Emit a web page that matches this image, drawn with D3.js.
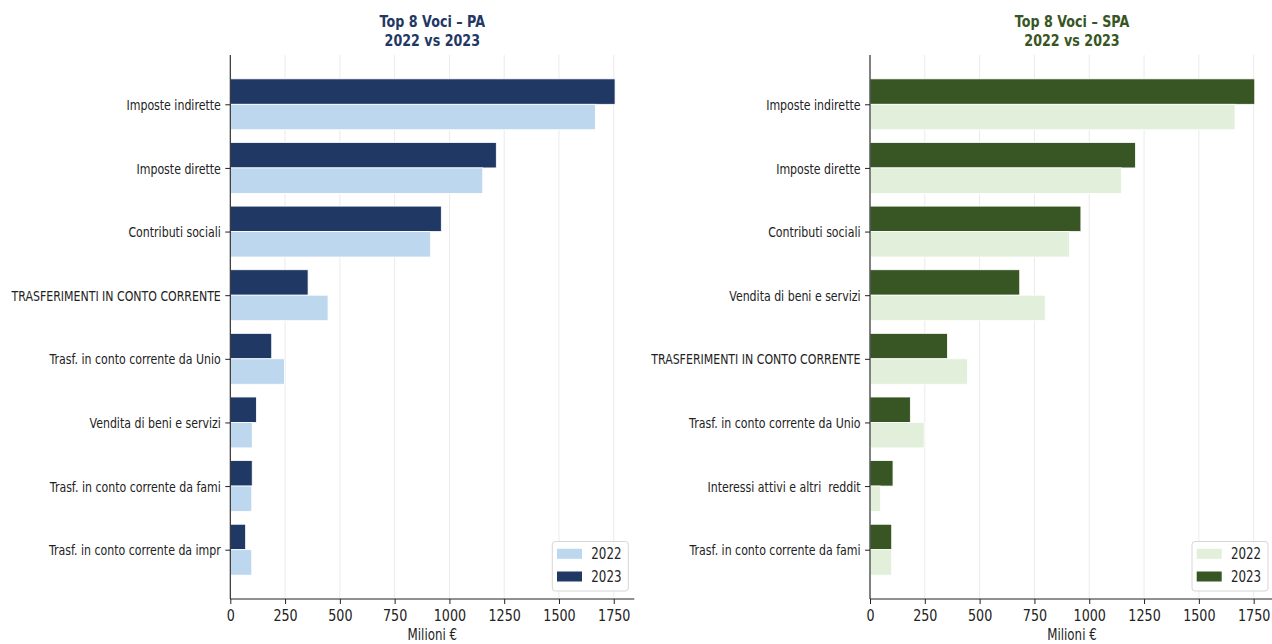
<!DOCTYPE html>
<html>
<head>
<meta charset="utf-8">
<script src="https://cdn.jsdelivr.net/npm/d3@7"></script>
<style>
  html, body { margin: 0; padding: 0; background: #fff; }
  svg { display: block; }
  text { font-family: "DejaVu Sans", sans-serif; white-space: pre; }
</style>
</head>
<body>
<svg id="chart" width="1272" height="644"></svg>
<script>
// ---- data ----
const categoriesPA = [
  "Imposte indirette",
  "Imposte dirette",
  "Contributi sociali",
  "TRASFERIMENTI IN CONTO CORRENTE",
  "Trasf. in conto corrente da Unio",
  "Vendita di beni e servizi",
  "Trasf. in conto corrente da fami",
  "Trasf. in conto corrente da impr"
];
const pa2022 = [1666, 1152, 914, 446, 247, 100, 98, 98];
const pa2023 = [1756, 1214, 963, 355, 189, 119, 100, 70];

const categoriesSPA = [
  "Imposte indirette",
  "Imposte dirette",
  "Contributi sociali",
  "Vendita di beni e servizi",
  "TRASFERIMENTI IN CONTO CORRENTE",
  "Trasf. in conto corrente da Unio",
  "Interessi attivi e altri  reddit",
  "Trasf. in conto corrente da fami"
];
const spa2022 = [1665, 1147, 910, 799, 444, 247, 47, 99];
const spa2023 = [1755, 1211, 962, 683, 353, 184, 105, 99];

const xTicks = [0, 250, 500, 750, 1000, 1250, 1500, 1750];
const seriesNames = ["2022", "2023"];
const titlesPA = ["Top 8 Voci \u2013 PA", "2022 vs 2023"];
const titlesSPA = ["Top 8 Voci \u2013 SPA", "2022 vs 2023"];
const xLabel = "Milioni \u20ac";

// ---- layout / style ----
const K = 0.78; // horizontal squeeze of text
const svg = d3.select("#chart");
const plotTop = 55, plotBottom = 599, plotW = 404;

function sq(sel, x, y) {
  return sel.attr("transform", `translate(${x},${y}) scale(${K},1)`);
}

function panel(cfg) {
  const g = svg.append("g");
  const x0 = cfg.left;
  const maxV = d3.max(cfg.s2022.concat(cfg.s2023));
  const x = d3.scaleLinear().domain([0, maxV * 1.05]).range([x0, x0 + plotW]);
  const y = d3.scaleLinear().domain([-0.775, 7.775]).range([plotTop, plotBottom]);
  const h = y(0.4) - y(0);

  // grid
  g.append("g").selectAll("line").data(xTicks).join("line")
    .attr("x1", d => x(d)).attr("x2", d => x(d))
    .attr("y1", plotTop).attr("y2", plotBottom)
    .attr("stroke", "#ebebeb").attr("stroke-width", 1);

  const idx = d3.range(cfg.cats.length);
  // 2023 bars (above)
  g.append("g").selectAll("rect").data(idx).join("rect")
    .attr("x", x(0)).attr("y", i => y(i) - h)
    .attr("width", i => x(cfg.s2023[i]) - x(0)).attr("height", h)
    .attr("fill", cfg.c2023).attr("stroke", "#fff").attr("stroke-width", 0.8);
  // 2022 bars (below)
  g.append("g").selectAll("rect").data(idx).join("rect")
    .attr("x", x(0)).attr("y", i => y(i))
    .attr("width", i => x(cfg.s2022[i]) - x(0)).attr("height", h)
    .attr("fill", cfg.c2022).attr("stroke", "#fff").attr("stroke-width", 0.8);

  // y axis
  const yAxis = d3.axisLeft(y).tickValues(idx).tickSize(5).tickPadding(4)
    .tickFormat(i => cfg.cats[i]);
  const ya = g.append("g").attr("transform", `translate(${x0},0)`).call(yAxis);
  ya.select(".domain").remove();
  ya.selectAll(".tick line").attr("stroke", "#222");
  ya.selectAll(".tick text")
    .attr("x", -9.5 / K).attr("dy", "0.36em")
    .attr("transform", `scale(${K},1)`)
    .attr("font-size", 14.1).attr("font-family", "DejaVu Sans").attr("fill", "#222");
  g.append("line").attr("x1", x0).attr("x2", x0).attr("y1", plotTop).attr("y2", plotBottom)
    .attr("stroke", "#222").attr("stroke-width", 1.1);

  // x axis
  const xAxis = d3.axisBottom(x).tickValues(xTicks).tickSize(5).tickPadding(5)
    .tickFormat(d3.format("d"));
  const xa = g.append("g").attr("transform", `translate(0,${plotBottom})`).call(xAxis);
  xa.select(".domain").remove();
  xa.selectAll(".tick line").attr("stroke", "#222");
  xa.selectAll(".tick text")
    .attr("transform", `scale(${K},1)`)
    .attr("font-size", 16.3).attr("font-family", "DejaVu Sans").attr("fill", "#222");
  g.append("line").attr("x1", x0).attr("x2", x0 + plotW).attr("y1", plotBottom).attr("y2", plotBottom)
    .attr("stroke", "#222").attr("stroke-width", 1.1);

  // x label
  sq(g.append("text"), x0 + plotW / 2, 640)
    .attr("text-anchor", "middle").attr("font-size", 15.2).attr("fill", "#222")
    .text(xLabel);

  // title
  cfg.titles.forEach((t, i) => {
    sq(g.append("text"), x0 + plotW / 2, 27 + i * 19)
      .attr("text-anchor", "middle").attr("font-size", 16.3).attr("font-weight", "bold")
      .attr("fill", cfg.titleColor).text(t);
  });

  // legend
  const lx = x0 + plotW - 6 - 76, ly = plotBottom - 8 - 49.5;
  const lg = g.append("g").attr("transform", `translate(${lx},${ly})`);
  lg.append("rect").attr("x", 0).attr("y", 0).attr("width", 76).attr("height", 49.5)
    .attr("rx", 3).attr("fill", "#fff").attr("fill-opacity", 0.85)
    .attr("stroke", "#d6d6d6").attr("stroke-width", 1);
  const legendColors = [cfg.c2022, cfg.c2023];
  seriesNames.forEach((n, i) => {
    lg.append("rect").attr("x", 4.7).attr("y", 7.3 + i * 22.7).attr("width", 25).attr("height", 10)
      .attr("fill", legendColors[i]);
    sq(lg.append("text"), 39, 12.3 + i * 22.7)
      .attr("dy", "0.36em").attr("font-size", 15.2).attr("fill", "#222").text(n);
  });
}

panel({
  left: 230.3, cats: categoriesPA, s2022: pa2022, s2023: pa2023,
  c2022: "#bdd7ee", c2023: "#1f3864", titleColor: "#1f3864", titles: titlesPA
});
panel({
  left: 870, cats: categoriesSPA, s2022: spa2022, s2023: spa2023,
  c2022: "#e2efda", c2023: "#375623", titleColor: "#375623", titles: titlesSPA
});
</script>
</body>
</html>
